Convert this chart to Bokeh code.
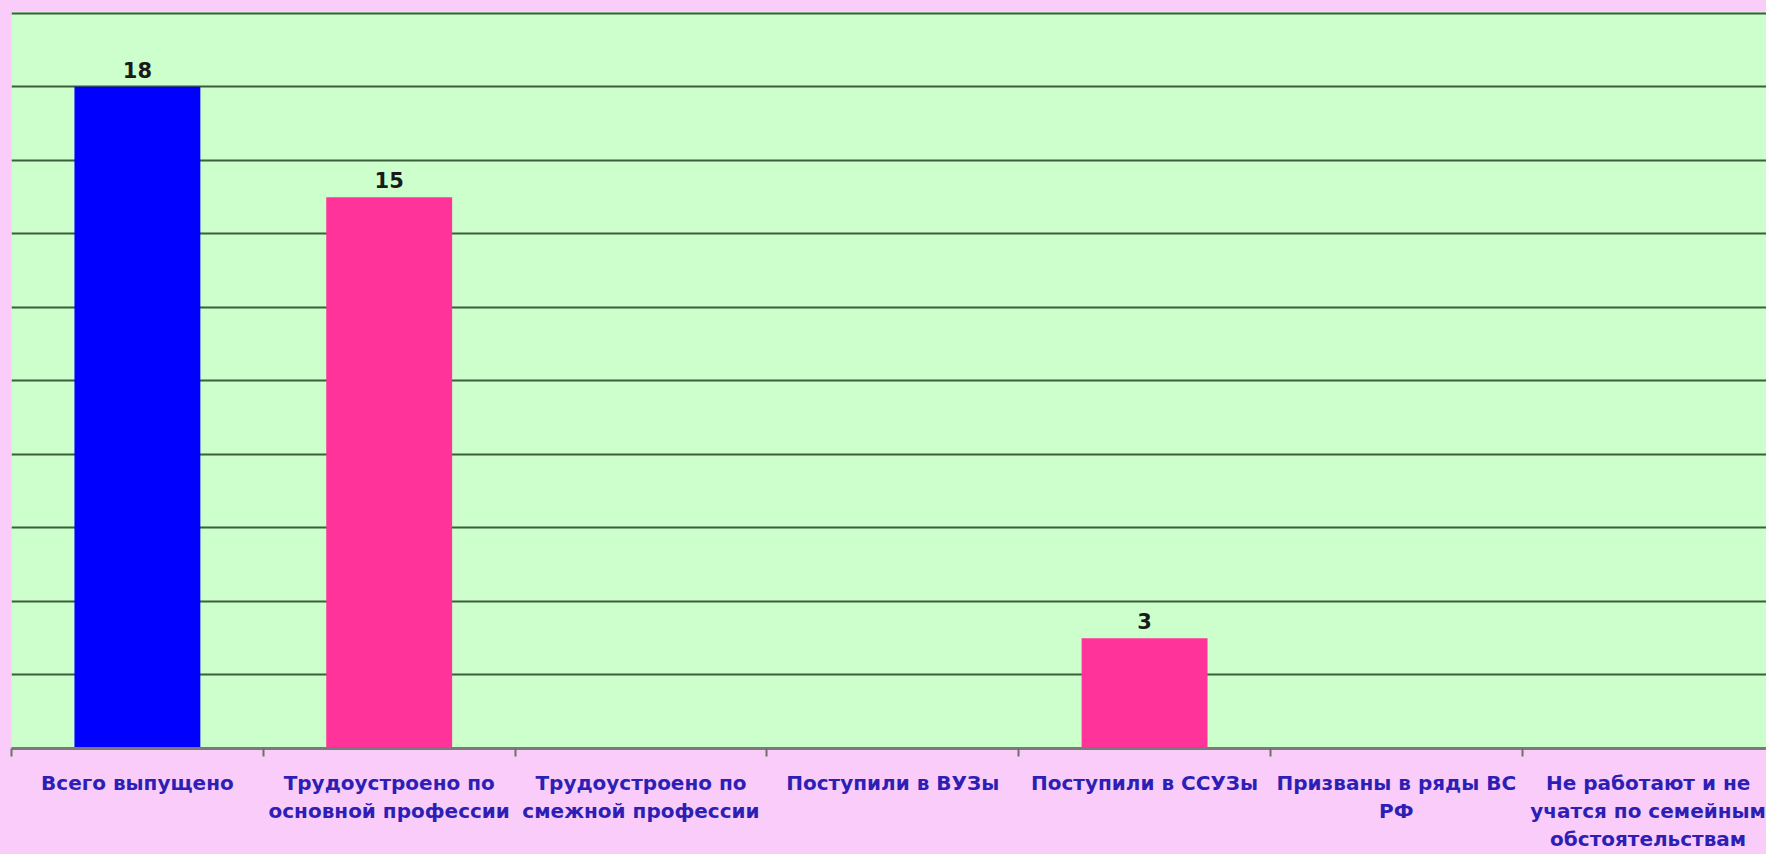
from bokeh.plotting import figure
from bokeh.models import ColumnDataSource, FixedTicker, Range1d
from bokeh.core.properties import value
from bokeh.embed import file_html
from bokeh.resources import INLINE

categories = [
    "Всего выпущено",
    "Трудоустроено по основной профессии",
    "Трудоустроено по смежной профессии",
    "Поступили в ВУЗы",
    "Поступили в ССУЗы",
    "Призваны в ряды ВС РФ",
    "Не работают и не учатся по семейным обстоятельствам",
]
tick_labels = [
    "Всего выпущено",
    "Трудоустроено по\nосновной профессии",
    "Трудоустроено по\nсмежной профессии",
    "Поступили в ВУЗы",
    "Поступили в ССУЗы",
    "Призваны в ряды ВС\nРФ",
    "Не работают и не\nучатся по семейным\nобстоятельствам",
]
values = [18, 15, 0, 0, 3, 0, 0]
bar_colors = ["#0000ff", "#ff3399", "#ff3399", "#ff3399", "#ff3399", "#ff3399", "#ff3399"]

PINK_BG = "#f9ccf9"
GREEN_BG = "#ccffcc"

n = len(categories)
centers = [i + 0.5 for i in range(n)]
bounds = list(range(n + 1))

src = ColumnDataSource(dict(x=centers, top=values, color=bar_colors))
lab_idx = [i for i, v in enumerate(values) if v != 0]
lab_src = ColumnDataSource(dict(
    x=[centers[i] for i in lab_idx],
    y=[values[i] for i in lab_idx],
    t=[str(values[i]) for i in lab_idx],
))

p = figure(width=1766, height=854, output_backend="svg", toolbar_location=None,
           x_range=Range1d(0, n - 0.03), y_range=Range1d(0, 20.05),
           min_border_left=11, min_border_right=0, min_border_top=11, min_border_bottom=0)
p.background_fill_color = GREEN_BG
p.border_fill_color = PINK_BG
p.outline_line_color = None

p.vbar(x="x", top="top", width=0.5, color="color", line_color=None, source=src)
p.text(x="x", y="y", text="t", source=lab_src, text_align="center", text_baseline="bottom",
       y_offset=-9, text_font=value("DejaVu Sans"), text_font_style="bold",
       text_font_size="21px", text_color="#1a1a1a")

p.yaxis.visible = False
p.xgrid.visible = False
p.ygrid.ticker = FixedTicker(ticks=list(range(0, 21, 2)))
p.ygrid.grid_line_color = "#3b5e3b"
p.ygrid.grid_line_width = 2

ax = p.xaxis[0]
ax.ticker = FixedTicker(ticks=centers, minor_ticks=bounds)
ax.major_label_overrides = {c: lbl for c, lbl in zip(centers, tick_labels)}
ax.major_tick_out = 0
ax.major_tick_in = 0
ax.minor_tick_out = 8
ax.minor_tick_in = 0
ax.minor_tick_line_color = "#6e6e6e"
ax.minor_tick_line_width = 2
ax.axis_line_color = "#7a7a7a"
ax.axis_line_width = 3
ax.major_label_standoff = 14
ax.major_label_text_font = "DejaVu Sans"
ax.major_label_text_font_style = "bold"
ax.major_label_text_font_size = "20px"
ax.major_label_text_color = "#2d1fb5"
ax.major_label_text_line_height = 1.18

html = file_html(p, INLINE).replace("<head>", "<head><style>html,body{background:%s}</style>" % PINK_BG, 1)
open("out.html", "w").write(html)
